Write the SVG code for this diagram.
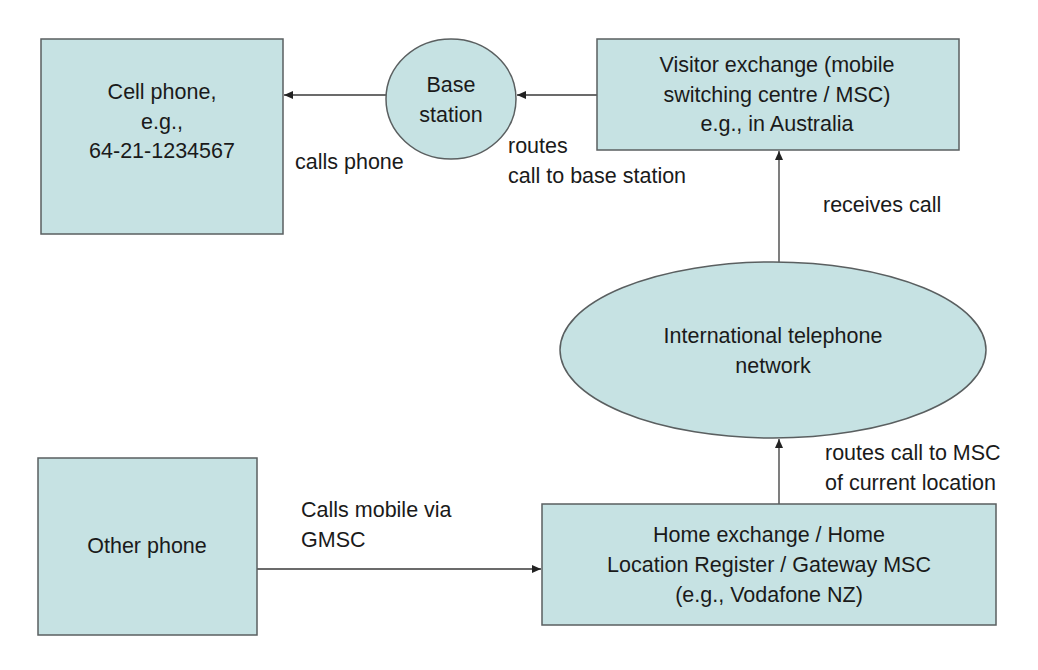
<svg xmlns="http://www.w3.org/2000/svg" width="1038" height="670" viewBox="0 0 1038 670">
<defs>
<marker id="arr" markerWidth="9" markerHeight="8" refX="9" refY="4" orient="auto" markerUnits="userSpaceOnUse">
<path d="M0,0 L9,4 L0,8 Z" fill="#222"/>
</marker>
<style>
.node{fill:#c6e2e3;stroke:#5a5f60;stroke-width:1.5}
.t{font-family:"Liberation Sans",Arial,sans-serif;font-size:21.5px;fill:#1a1a1a}
.c{text-anchor:middle}
.conn{stroke:#3a3a3a;stroke-width:1.3;fill:none;marker-end:url(#arr)}
</style>
</defs>
<rect width="1038" height="670" fill="#ffffff"/>
<g id="connectors">
<line class="conn" x1="386" y1="95" x2="284" y2="95"/>
<line class="conn" x1="597" y1="95" x2="517" y2="95"/>
<line class="conn" x1="779" y1="262" x2="779" y2="151"/>
<line class="conn" x1="779" y1="504" x2="779" y2="439"/>
<line class="conn" x1="257" y1="569" x2="541" y2="569"/>
<text class="t" x="295" y="169">calls phone</text>
<text class="t" x="508" y="153">routes</text>
<text class="t" x="508" y="183">call to base station</text>
<text class="t" x="823" y="212">receives call</text>
<text class="t" x="825" y="460">routes call to MSC</text>
<text class="t" x="825" y="490">of current location</text>
<text class="t" x="301" y="517">Calls mobile via</text>
<text class="t" x="301" y="547">GMSC</text>
</g>
<g id="cell-phone">
<rect class="node" x="41" y="39" width="242" height="195"/>
<text class="t c" x="162" y="99">Cell phone,</text>
<text class="t c" x="162" y="129">e.g.,</text>
<text class="t c" x="162" y="158">64-21-1234567</text>
</g>
<g id="base-station">
<ellipse class="node" cx="451" cy="99" rx="65" ry="60"/>
<text class="t c" x="451" y="92">Base</text>
<text class="t c" x="451" y="122">station</text>
</g>
<g id="visitor-exchange">
<rect class="node" x="597" y="39" width="362" height="111"/>
<text class="t c" x="777" y="72">Visitor exchange (mobile</text>
<text class="t c" x="777" y="102">switching centre / MSC)</text>
<text class="t c" x="777" y="131">e.g., in Australia</text>
</g>
<g id="international-network">
<ellipse class="node" cx="773" cy="350" rx="213" ry="88"/>
<text class="t c" x="773" y="343">International telephone</text>
<text class="t c" x="773" y="373">network</text>
</g>
<g id="home-exchange">
<rect class="node" x="542" y="504" width="454" height="121"/>
<text class="t c" x="769" y="542">Home exchange / Home</text>
<text class="t c" x="769" y="572">Location Register / Gateway MSC</text>
<text class="t c" x="769" y="602">(e.g., Vodafone NZ)</text>
</g>
<g id="other-phone">
<rect class="node" x="38" y="458" width="219" height="177"/>
<text class="t c" x="147" y="553">Other phone</text>
</g>
</svg>
